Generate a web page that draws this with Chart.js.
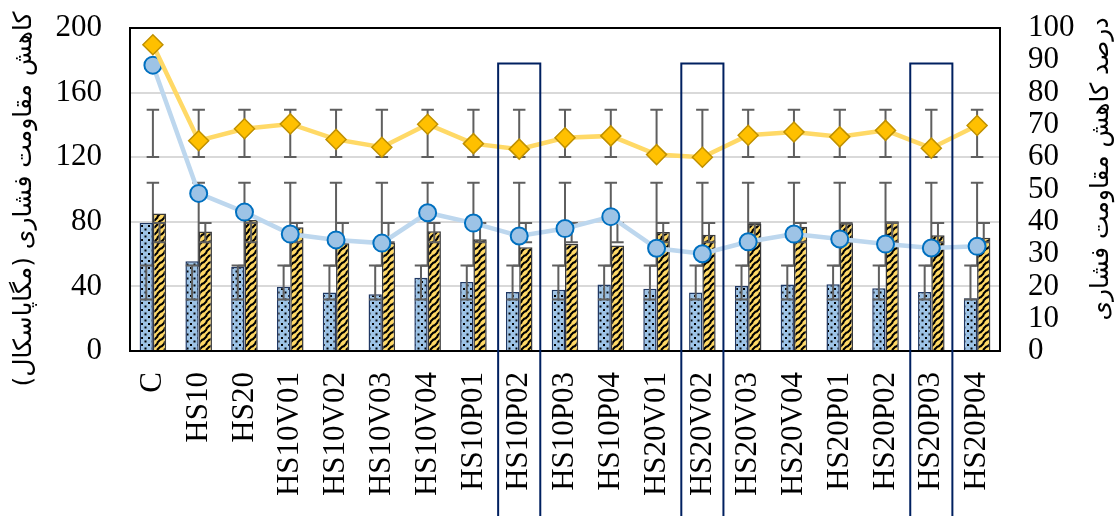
<!DOCTYPE html>
<html>
<head>
<meta charset="utf-8">
<script src="https://cdn.jsdelivr.net/npm/chart.js@4/dist/chart.umd.min.js"></script>
<style>
  html, body { margin: 0; padding: 0; background: #ffffff; }
  #wrap { width: 1118px; height: 516px; }
</style>
</head>
<body>
<div id="wrap"><canvas id="chart" width="1118" height="516"></canvas></div>
<script>
// Mix designations
const categories = ['C', 'HS10', 'HS20', 'HS10V01', 'HS10V02', 'HS10V03', 'HS10V04',
  'HS10P01', 'HS10P02', 'HS10P03', 'HS10P04', 'HS20V01', 'HS20V02', 'HS20V03',
  'HS20V04', 'HS20P01', 'HS20P02', 'HS20P03', 'HS20P04'];

// Strength loss, MPa (left axis)
const lossMpaA = [79.4, 55.5, 52.0, 39.8, 36.2, 35.1, 45.4, 42.7, 36.5, 38.0,
  41.1, 38.6, 36.3, 40.2, 41.1, 41.3, 38.8, 36.5, 32.6];
const lossMpaB = [85.1, 74.0, 81.1, 76.6, 66.7, 66.9, 74.1, 69.2, 64.2, 66.3,
  65.4, 73.7, 72.0, 78.6, 77.0, 79.1, 80.3, 71.6, 70.2];

// Strength loss, percent (right axis)
const lossPctA = [88.5, 48.8, 43.0, 36.2, 34.4, 33.4, 42.8, 39.6, 35.6, 37.9,
  41.6, 31.8, 30.1, 33.8, 36.2, 34.7, 33.1, 31.9, 32.4];
const lossPctB = [94.8, 65.1, 68.8, 70.3, 65.5, 63.1, 70.2, 64.2, 62.5, 66.0,
  66.6, 60.8, 60.0, 66.8, 67.8, 66.3, 68.3, 62.8, 69.8];

// Axis ticks
const leftTicks = [0, 40, 80, 120, 160, 200];
const rightTicks = [0, 10, 20, 30, 40, 50, 60, 70, 80, 90, 100];

// Framed mixes
const framed = ['HS10P02', 'HS20V02', 'HS20P03'];
const FRAME_TOP = 178; // left-axis value where the frames start

const leftTitle = 'کاهش مقاومت فشاری (مگاپاسکال)';
const rightTitle = 'درصد کاهش مقاومت فشاری';

const SERIF = "'Liberation Serif', 'Times New Roman', serif";
const ARABIC = "'DejaVu Sans', 'Noto Sans', sans-serif";

// ---- fill patterns ----
function dotPattern() {
  const c = document.createElement('canvas');
  c.width = 7; c.height = 7;
  const g = c.getContext('2d');
  g.fillStyle = '#9DC3E6';
  g.fillRect(0, 0, 7, 7);
  g.fillStyle = '#000000';
  g.fillRect(1, 1, 2, 2);
  g.fillRect(4.5, 4.5, 2, 2);
  return g.createPattern(c, 'repeat');
}
function dashDiagPattern() {
  const c = document.createElement('canvas');
  c.width = 7; c.height = 7;
  const g = c.getContext('2d');
  g.fillStyle = '#FFD966';
  g.fillRect(0, 0, 7, 7);
  g.strokeStyle = '#000000';
  g.lineWidth = 2.1;
  g.lineCap = 'butt';
  g.beginPath();
  g.moveTo(0, 4); g.lineTo(4, 0);
  g.moveTo(3, 7); g.lineTo(7, 3);
  g.stroke();
  return g.createPattern(c, 'repeat');
}

// ---- standard-deviation error bars (centred on series mean) ----
function mean(a) { return a.reduce((s, v) => s + v, 0) / a.length; }
function stdev(a) {
  const m = mean(a);
  return Math.sqrt(a.reduce((s, v) => s + (v - m) * (v - m), 0) / (a.length - 1));
}
function drawSdBars(chart, index) {
  const ds = chart.data.datasets[index];
  const meta = chart.getDatasetMeta(index);
  const yScale = chart.scales[meta.yAxisID];
  const m = mean(ds.data), s = stdev(ds.data);
  const yHi = yScale.getPixelForValue(m + s);
  const yLo = yScale.getPixelForValue(m - s);
  const cap = 12.5;
  const ctx = chart.ctx;
  ctx.save();
  ctx.strokeStyle = '#5f5f5f';
  ctx.lineWidth = 2;
  meta.data.forEach(el => {
    const x = el.x;
    ctx.beginPath();
    ctx.moveTo(x, yHi); ctx.lineTo(x, yLo);
    ctx.moveTo(x - cap / 2, yHi); ctx.lineTo(x + cap / 2, yHi);
    ctx.moveTo(x - cap / 2, yLo); ctx.lineTo(x + cap / 2, yLo);
    ctx.stroke();
  });
  ctx.restore();
}

const decor = {
  id: 'decor',
  beforeDatasetsDraw(chart) {
    chart.data.datasets.forEach((ds, i) => {
      if (ds.type === 'line') drawSdBars(chart, i);
    });
  },
  afterDatasetDraw(chart, args) {
    if (chart.data.datasets[args.index].type === 'bar') drawSdBars(chart, args.index);
  },
  afterDatasetsDraw(chart) {
    const { ctx, chartArea: a } = chart;
    ctx.save();
    ctx.strokeStyle = '#000000';
    ctx.lineWidth = 2;
    ctx.strokeRect(a.left, a.top, a.right - a.left, a.bottom - a.top);
    ctx.restore();
  },
  afterDraw(chart) {
    const ctx = chart.ctx;
    const xs = chart.scales.x, ys = chart.scales.y;
    const half = 0.46 * (xs.right - xs.left) / categories.length;
    const top = ys.getPixelForValue(FRAME_TOP);
    const bottom = chart.height + 4;
    ctx.save();
    ctx.strokeStyle = '#002060';
    ctx.lineWidth = 2;
    framed.forEach(name => {
      const x = xs.getPixelForValue(categories.indexOf(name));
      ctx.beginPath();
      ctx.moveTo(x - half, bottom);
      ctx.lineTo(x - half, top);
      ctx.lineTo(x + half, top);
      ctx.lineTo(x + half, bottom);
      ctx.stroke();
    });
    ctx.restore();

    // axis titles, both reading bottom-to-top
    ctx.save();
    ctx.fillStyle = '#000000';
    ctx.direction = 'rtl';
    ctx.textAlign = 'center';
    ctx.textBaseline = 'middle';
    ctx.font = '25px ' + ARABIC;
    ctx.translate(24, 199);
    ctx.rotate(-Math.PI / 2);
    ctx.fillText(leftTitle, 0, 0);
    ctx.restore();

    ctx.save();
    ctx.fillStyle = '#000000';
    ctx.direction = 'rtl';
    ctx.textAlign = 'center';
    ctx.textBaseline = 'middle';
    ctx.font = '25px ' + ARABIC;
    ctx.translate(1101, 169);
    ctx.rotate(-Math.PI / 2);
    ctx.fillText(rightTitle, 0, 0);
    ctx.restore();
  }
};

Chart.defaults.font.family = SERIF;
Chart.defaults.color = '#000000';

// vertical axes: fixed width, only half a label of overhang above/below
function fitVertical(width) {
  return s => {
    s.width = width;
    s.paddingTop = 16;
    s.paddingBottom = 16;
  };
}

new Chart(document.getElementById('chart'), {
  data: {
    labels: categories,
    datasets: [
      {
        type: 'bar', label: 'A (MPa)', data: lossMpaA, yAxisID: 'y', order: 2,
        backgroundColor: dotPattern(), borderColor: '#1F3864', borderWidth: 1.5,
        categoryPercentage: 0.58, barPercentage: 1.0
      },
      {
        type: 'bar', label: 'B (MPa)', data: lossMpaB, yAxisID: 'y', order: 3,
        backgroundColor: dashDiagPattern(), borderColor: '#3a3a3a', borderWidth: 1.5,
        categoryPercentage: 0.58, barPercentage: 1.0
      },
      {
        type: 'line', label: 'A (%)', data: lossPctA, yAxisID: 'y1', order: 1,
        borderColor: '#BDD7EE', borderWidth: 4.5, tension: 0,
        pointStyle: 'circle', pointRadius: 8.5, pointBorderWidth: 2,
        pointBackgroundColor: '#9DC3E6', pointBorderColor: '#0070C0'
      },
      {
        type: 'line', label: 'B (%)', data: lossPctB, yAxisID: 'y1', order: 0,
        borderColor: '#FFD966', borderWidth: 4.5, tension: 0,
        pointStyle: 'rectRot', pointRadius: 10, pointBorderWidth: 1.5,
        pointBackgroundColor: '#FFC000', pointBorderColor: '#BF9000'
      }
    ]
  },
  options: {
    responsive: false,
    animation: false,
    devicePixelRatio: 1,
    layout: { padding: { top: 28, left: 0, right: 0, bottom: 0 } },
    plugins: { legend: { display: false }, tooltip: { enabled: false } },
    scales: {
      x: {
        type: 'category',
        offset: true,
        grid: { display: false, drawTicks: false },
        border: { display: false },
        ticks: {
          minRotation: 90, maxRotation: 90, autoSkip: false, padding: 21,
          font: { size: 31, family: SERIF }, color: '#000000'
        },
        afterFit(s) { s.height = 165; }
      },
      y: {
        position: 'left', min: 0, max: 200,
        grid: { color: '#d9d9d9', lineWidth: 2, drawTicks: false },
        border: { display: false },
        ticks: { padding: 28, autoSkip: false, font: { size: 31, family: SERIF }, color: '#000000' },
        afterBuildTicks(s) { s.ticks = leftTicks.map(v => ({ value: v })); },
        afterFit: fitVertical(130)
      },
      y1: {
        position: 'right', min: 0, max: 100,
        grid: { display: false, drawTicks: false },
        border: { display: false },
        ticks: { padding: 28, autoSkip: false, font: { size: 31, family: SERIF }, color: '#000000' },
        afterBuildTicks(s) { s.ticks = rightTicks.map(v => ({ value: v })); },
        afterFit: fitVertical(118)
      }
    }
  },
  plugins: [decor]
});
</script>
</body>
</html>
